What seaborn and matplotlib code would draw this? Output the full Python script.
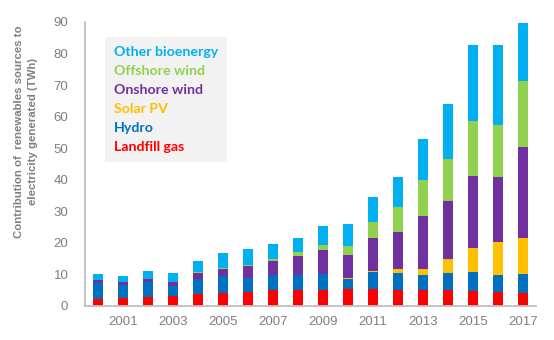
import numpy as np
import pandas as pd
import matplotlib
matplotlib.use("Agg")
import matplotlib.pyplot as plt
import seaborn as sns
from matplotlib.patches import Patch

years = list(range(2000, 2018))
landfill_gas = [2.2, 2.5, 2.7, 3.2, 3.9, 4.2, 4.4, 5.0, 5.0, 5.0, 5.3, 5.3, 5.0, 5.0, 5.0, 4.75, 4.5, 4.2]
hydro = [5.2, 4.2, 4.8, 3.1, 4.8, 5.2, 4.6, 4.7, 4.9, 5.0, 3.4, 5.4, 5.3, 4.7, 5.6, 6.0, 5.3, 5.8]
solar_pv = [0, 0, 0, 0, 0, 0, 0, 0, 0, 0, 0.04, 0.3, 1.3, 2.1, 4.2, 7.7, 10.5, 11.5]
onshore_wind = [0.9, 0.9, 1.1, 1.4, 1.9, 2.3, 3.6, 4.6, 5.8, 7.8, 7.3, 10.6, 12.0, 16.7, 18.4, 22.9, 20.7, 29.0]
offshore_wind = [0, 0, 0, 0, 0.2, 0.3, 0.5, 0.7, 1.3, 1.5, 2.9, 5.1, 7.7, 11.4, 13.5, 17.2, 16.4, 20.8]
other_bioenergy = [1.7, 1.9, 2.4, 2.9, 3.5, 4.8, 5.1, 4.6, 4.6, 5.9, 7.1, 8.0, 9.5, 12.9, 17.4, 24.3, 25.3, 18.3]

series_names = ["Landfill gas", "Hydro", "Solar PV", "Onshore wind", "Offshore wind", "Other bioenergy"]
series_values = [landfill_gas, hydro, solar_pv, onshore_wind, offshore_wind, other_bioenergy]
colors = ["#FF0000", "#0070C0", "#FFC000", "#7030A0", "#92D050", "#00B0F0"]

df = pd.DataFrame({"year": [str(y) for y in years]})
cum = np.zeros(len(years))
for name, vals in zip(series_names, series_values):
    cum = cum + np.array(vals)
    df[name] = cum.copy()

sns.set_theme(style="white")
plt.rcParams["font.family"] = ["Liberation Sans", "DejaVu Sans"]

fig = plt.figure(figsize=(5.54, 3.40), dpi=100)
ax = fig.add_axes([85 / 554, 1 - 306 / 340, (535.7 - 85) / 554, (306 - 22) / 340])

# draw cumulative totals from top layer down so they appear stacked
for name, col in reversed(list(zip(series_names, colors))):
    sns.barplot(data=df, x="year", y=name, color=col, width=0.4, ax=ax,
                saturation=1, linewidth=0, edgecolor=col)

ax.set_xlim(-0.51, 17.52)
ax.set_ylim(0, 90)
ax.set_yticks(range(0, 91, 10))
ax.set_xticks(range(1, 18, 2))
ax.set_xticklabels([str(y) for y in years[1::2]])
ax.set_xlabel("")
ax.set_ylabel("Contribution of  renewables sources to\nelectricity generated (TWh)",
              fontsize=8.2, fontweight="bold", color="#7F7F7F", va="center",
              linespacing=1.5)
ax.yaxis.set_label_coords(-0.131, 0.614)

ax.tick_params(axis="both", length=0, labelsize=9.5, colors="#7F7F7F")
ax.tick_params(axis="y", pad=12)
ax.tick_params(axis="x", pad=7)

for s in ["top", "right"]:
    ax.spines[s].set_visible(False)
for s in ["left", "bottom"]:
    ax.spines[s].set_color("#BFBFBF")
    ax.spines[s].set_linewidth(1.3)

handles = [Patch(facecolor="none", edgecolor="none", label=n) for n in reversed(series_names)]
leg = ax.legend(handles=handles, loc="upper left", bbox_to_anchor=(0.0444, 0.947),
                borderaxespad=0, handlelength=0, handletextpad=0,
                labelcolor=list(reversed(colors)),
                prop={"family": ["Lato", "DejaVu Sans"], "weight": "bold", "size": 10.2},
                frameon=True, fancybox=False, borderpad=0.62, labelspacing=0.5)
leg.get_frame().set_facecolor("#F2F2F2")
leg.get_frame().set_edgecolor("none")
leg.get_frame().set_alpha(1)

fig.savefig("out.png", dpi=100)
